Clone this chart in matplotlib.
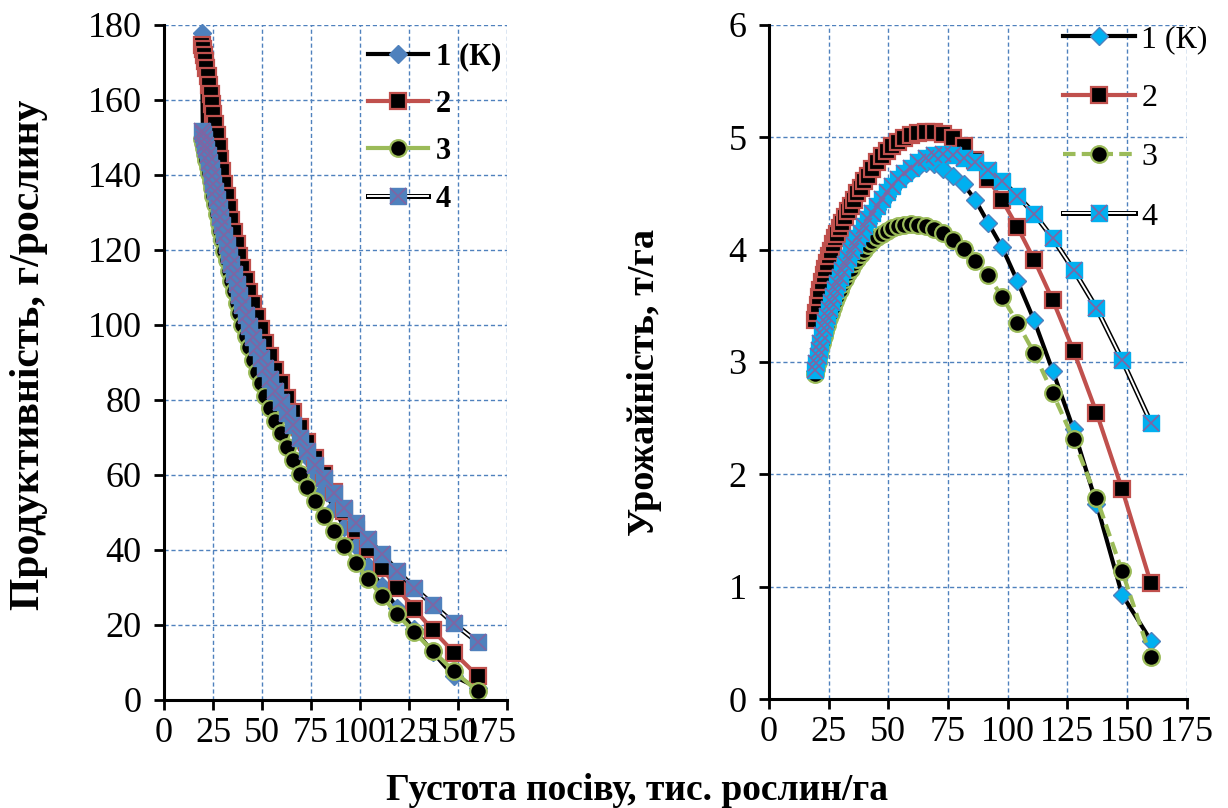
import matplotlib
matplotlib.use("Agg")
import matplotlib.pyplot as plt
from matplotlib.transforms import offset_copy

plt.rcParams['font.family'] = ['Liberation Serif', 'DejaVu Serif']

# густота посіву, тис. рослин/га
density = [19.3, 19.8, 20.4, 21.0, 21.6, 22.3, 23.0, 23.7, 24.4, 25.2, 26.0, 26.9,
           27.8, 28.7, 29.7, 30.8, 31.9, 33.1, 34.3, 35.6, 37.0, 38.4, 40.0, 41.6,
           43.4, 45.3, 47.3, 49.4, 51.7, 54.1, 56.7, 59.5, 62.5, 65.7, 69.3, 73.0,
           77.2, 81.6, 86.5, 91.8, 97.7, 104.1, 111.1, 118.9, 127.6, 137.2, 147.9, 160.0]

# продуктивність, г/рослину
prod_1 = [177.8, 150.5, 149.0, 147.6, 146.3, 144.4, 142.6, 140.9, 138.9, 136.9, 135.0, 132.7,
          130.2, 128.2, 125.9, 123.1, 120.7, 117.8, 115.5, 112.6, 110.0, 107.3, 104.5, 101.9,
          99.1, 96.2, 93.4, 90.7, 87.8, 85.0, 82.0, 79.0, 75.8, 72.6, 68.7, 64.7,
          60.4, 56.1, 51.3, 46.2, 41.1, 35.7, 30.3, 24.6, 18.8, 12.7, 6.3, 3.3]
prod_2 = [174.6, 173.7, 172.1, 170.5, 168.5, 166.4, 163.9, 161.6, 159.0, 156.3, 153.5, 150.6,
          147.5, 144.3, 141.1, 137.7, 134.5, 131.1, 128.0, 124.7, 121.6, 118.5, 115.3, 112.0,
          108.8, 105.5, 102.1, 98.8, 95.2, 91.7, 88.0, 84.4, 80.6, 76.9, 72.9, 68.9,
          64.6, 60.3, 55.5, 50.4, 45.4, 40.3, 35.2, 29.9, 24.3, 18.6, 12.6, 6.4]
prod_3 = [149.7, 148.5, 147.1, 145.7, 144.0, 142.2, 140.4, 138.4, 136.5, 134.5, 132.3, 129.7,
          127.3, 125.1, 122.6, 119.8, 117.2, 114.5, 111.7, 109.0, 105.9, 103.1, 100.0, 97.1,
          94.0, 90.7, 87.5, 84.4, 81.0, 77.8, 74.4, 71.1, 67.5, 64.1, 60.3, 56.8,
          53.0, 49.1, 45.1, 41.1, 36.6, 32.2, 27.7, 22.9, 18.1, 13.0, 7.7, 2.3]
prod_4 = [151.8, 151.0, 149.5, 148.1, 146.8, 145.3, 143.5, 141.8, 139.8, 137.7, 135.8, 133.5,
          131.3, 128.9, 126.6, 124.0, 121.3, 118.7, 116.3, 113.5, 110.8, 108.1, 105.3, 102.6,
          99.8, 96.9, 94.1, 91.3, 88.4, 85.6, 82.5, 79.5, 76.5, 73.4, 69.8, 66.4,
          62.7, 59.1, 55.3, 51.3, 47.2, 43.0, 38.9, 34.5, 29.9, 25.4, 20.4, 15.4]

# урожайність, т/га
yield_1 = [2.92, 2.98, 3.04, 3.10, 3.16, 3.22, 3.28, 3.34, 3.39, 3.45, 3.51, 3.57,
           3.62, 3.68, 3.74, 3.79, 3.85, 3.90, 3.96, 4.01, 4.07, 4.12, 4.18, 4.24,
           4.30, 4.36, 4.42, 4.48, 4.54, 4.60, 4.65, 4.70, 4.74, 4.77, 4.76, 4.72,
           4.66, 4.58, 4.44, 4.24, 4.02, 3.72, 3.37, 2.92, 2.40, 1.74, 0.93, 0.52]
yield_2 = [3.37, 3.44, 3.51, 3.58, 3.64, 3.71, 3.77, 3.83, 3.88, 3.94, 3.99, 4.05,
           4.10, 4.14, 4.19, 4.24, 4.29, 4.34, 4.39, 4.44, 4.50, 4.55, 4.61, 4.66,
           4.72, 4.78, 4.83, 4.88, 4.92, 4.96, 4.99, 5.02, 5.04, 5.05, 5.05, 5.03,
           4.99, 4.92, 4.80, 4.63, 4.44, 4.20, 3.91, 3.55, 3.10, 2.55, 1.87, 1.03]
yield_3 = [2.89, 2.94, 3.00, 3.06, 3.11, 3.17, 3.23, 3.28, 3.33, 3.39, 3.44, 3.49,
           3.54, 3.59, 3.64, 3.69, 3.74, 3.79, 3.83, 3.88, 3.92, 3.96, 4.00, 4.04,
           4.08, 4.11, 4.14, 4.17, 4.19, 4.21, 4.22, 4.23, 4.22, 4.21, 4.18, 4.15,
           4.09, 4.01, 3.90, 3.77, 3.58, 3.35, 3.08, 2.72, 2.31, 1.79, 1.14, 0.37]
yield_4 = [2.93, 2.99, 3.05, 3.11, 3.17, 3.24, 3.30, 3.36, 3.41, 3.47, 3.53, 3.59,
           3.65, 3.70, 3.76, 3.82, 3.87, 3.93, 3.99, 4.04, 4.10, 4.15, 4.21, 4.27,
           4.33, 4.39, 4.45, 4.51, 4.57, 4.63, 4.68, 4.73, 4.78, 4.82, 4.84, 4.85,
           4.84, 4.82, 4.78, 4.71, 4.61, 4.48, 4.32, 4.10, 3.82, 3.48, 3.02, 2.46]

labels = ['1 (К)', '2', '3', '4']

RED = '#C0504D'
GREEN = '#9BBB59'
BLUE = '#4F81BD'
CYAN = '#00B0F0'
PURPLE = '#8064A2'
GRID = '#4F81BD'

fig = plt.figure(figsize=(12.28, 8.08), dpi=100)
ax1 = fig.add_axes([0.1336, 0.1337, 0.2793, 0.8354])
ax2 = fig.add_axes([0.6261, 0.1349, 0.3403, 0.8342])


def style_axes(ax, ymax, ystep):
    ax.set_xlim(0, 175)
    ax.set_ylim(0, ymax)
    ax.set_xticks(range(0, 176, 25))
    ax.set_yticks([i * ystep for i in range(int(round(ymax / ystep)) + 1)])
    for s in ['top', 'right']:
        ax.spines[s].set_visible(False)
    for s in ['left', 'bottom']:
        ax.spines[s].set_linewidth(2.2)
    ax.tick_params(direction='out', length=7, width=2, labelsize=26)
    ax.tick_params(axis='y', pad=9)
    ax.tick_params(axis='x', pad=5)
    ax.grid(True, color=GRID, linestyle=(0, (3, 2)), linewidth=1.0)
    ax.set_axisbelow(True)


def draw(ax, ys, face4, face1, dashed3):
    h = []
    l1, = ax.plot(density, ys[0], color='black', lw=3, marker='D', ms=9,
                  mfc=face1, mec=BLUE, mew=1, clip_on=False)
    h.append(l1)
    l2, = ax.plot(density, ys[1], color=RED, lw=3, marker='s', ms=11.5,
                  mfc='black', mec=RED, mew=1.6, clip_on=False)
    h.append(l2)
    l3, = ax.plot(density, ys[2], color=GREEN, lw=3,
                  ls=(0, (3, 1.5)) if dashed3 else '-', marker='o', ms=12,
                  mfc='black', mec=GREEN, mew=1.6, clip_on=False)
    h.append(l3)
    a, = ax.plot(density, ys[3], color='black', lw=3.6, clip_on=False)
    b, = ax.plot(density, ys[3], color='white', lw=1.4, clip_on=False)
    c, = ax.plot(density, ys[3], ls='none', marker='s', ms=12, mfc=face4,
                 mec=face4, clip_on=False)
    d, = ax.plot(density, ys[3], ls='none', marker='x', ms=11, mec=PURPLE,
                 mew=1.2, clip_on=False)
    h.append((a, b, c, d))
    return h


style_axes(ax1, 180, 20)
h1 = draw(ax1, [prod_1, prod_2, prod_3, prod_4], BLUE, BLUE, False)
ax1.set_ylabel('Продуктивність, г/рослину', fontsize=30, fontweight='bold')
ax1.yaxis.set_label_coords(-0.338, 0.511)
ax1.legend(h1, labels, loc='upper left', bbox_to_anchor=(0.595, 0.974),
           frameon=False, handlelength=1.96, labelspacing=0.6,
           handletextpad=0.25, borderaxespad=0, borderpad=0,
           prop={'size': 22, 'weight': 'bold'})

# last x labels of the left panel sit a bit to the left, as in the source
xl = ax1.get_xticklabels()
xl[-2].set_transform(offset_copy(xl[-2].get_transform(), fig=fig, x=-6, units='dots'))
xl[-1].set_transform(offset_copy(xl[-1].get_transform(), fig=fig, x=-17, units='dots'))

style_axes(ax2, 6, 1)
h2 = draw(ax2, [yield_1, yield_2, yield_3, yield_4], CYAN, CYAN, True)
ax2.set_ylabel('Урожайність, т/га', fontsize=27.5, fontweight='bold')
ax2.yaxis.set_label_coords(-0.256, 0.47)
ax2.legend(h2, labels, loc='upper left', bbox_to_anchor=(0.704, 1.0),
           frameon=False, handlelength=2.25, labelspacing=0.93,
           handletextpad=0.2, borderaxespad=0, borderpad=0,
           prop={'size': 23})

fig.text(0.519, 0.022, 'Густота посіву, тис. рослин/га', ha='center', va='center',
         fontsize=27, fontweight='bold')

fig.savefig('out.png', dpi=100)
